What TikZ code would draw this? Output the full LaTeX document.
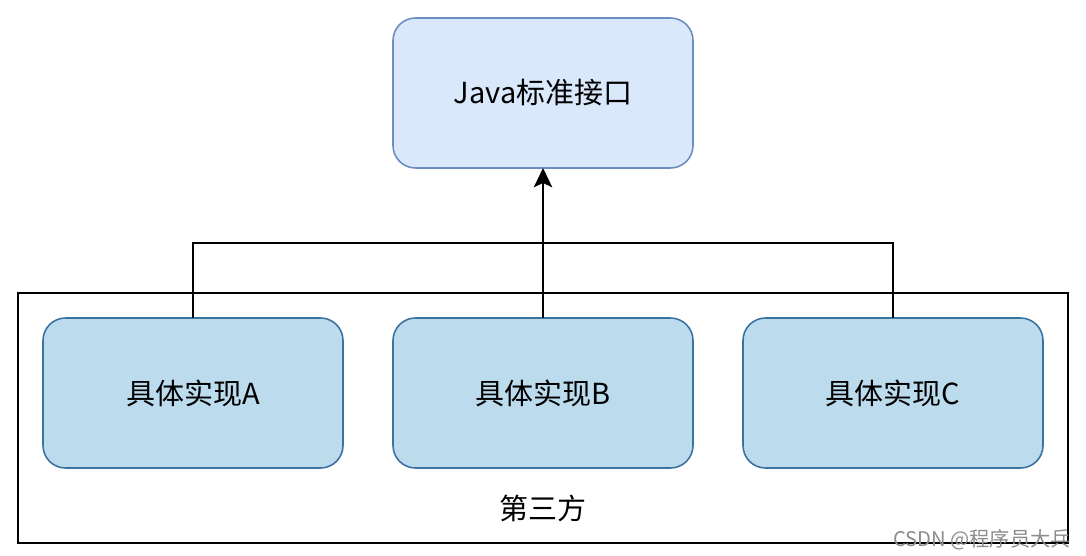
\documentclass[tikz,border=0pt]{standalone}
\usepackage{fontspec}
\setmainfont{Noto Sans CJK SC}
\usetikzlibrary{arrows.meta, positioning, calc}
\definecolor{ifacefill}{RGB}{218,232,252}
\definecolor{ifacedraw}{RGB}{108,142,191}
\definecolor{implfill}{RGB}{188,220,238}
\definecolor{impldraw}{RGB}{58,114,160}

\begin{document}
\begin{tikzpicture}[
  node distance=1cm,
  box/.style={rectangle, rounded corners=0.45cm, line width=0.9pt, outer sep=0pt,
              minimum width=6cm, minimum height=3cm, align=center,
              font=\fontsize{16.5}{19}\selectfont},
  iface/.style={box, draw=ifacedraw, fill=ifacefill},
  impl/.style={box, draw=impldraw, fill=implfill},
  link/.style={line width=1.1pt},
  arr/.style={-{Stealth[length=11pt, width=10.5pt, inset=2.5pt]}, line width=1.1pt}
]
\useasboundingbox (0,0) rectangle (21.72,-11.12);

\node[impl] (implA) at (3.86,-7.86) {具体实现A};
\node[impl, right=of implA] (implB) {具体实现B};
\node[impl, right=of implB] (implC) {具体实现C};
\node[iface, above=3cm of implB] (iface) {Java标准接口};

% third-party frame
\node[font=\fontsize{16.5}{19}\selectfont, below=0.42cm of implB] (third) {第三方};
\draw[link] ($(implA.north west)+(-0.5,0.5)$) rectangle ($(implC.south east)+(0.5,-1.5)$);

\coordinate (bus) at ($(iface.south)!0.5!(implB.north)$);
\draw[link] (implA.north) |- (bus) -| (implC.north);
\draw[arr] (implB.north) -- (iface.south);

\node[font=\fontsize{11.5}{13}\selectfont, text=black!45, anchor=south east, inner sep=0pt] (mark) at (21.42,-11.0) {CSDN @程序员大兵};
\end{tikzpicture}
\end{document}
